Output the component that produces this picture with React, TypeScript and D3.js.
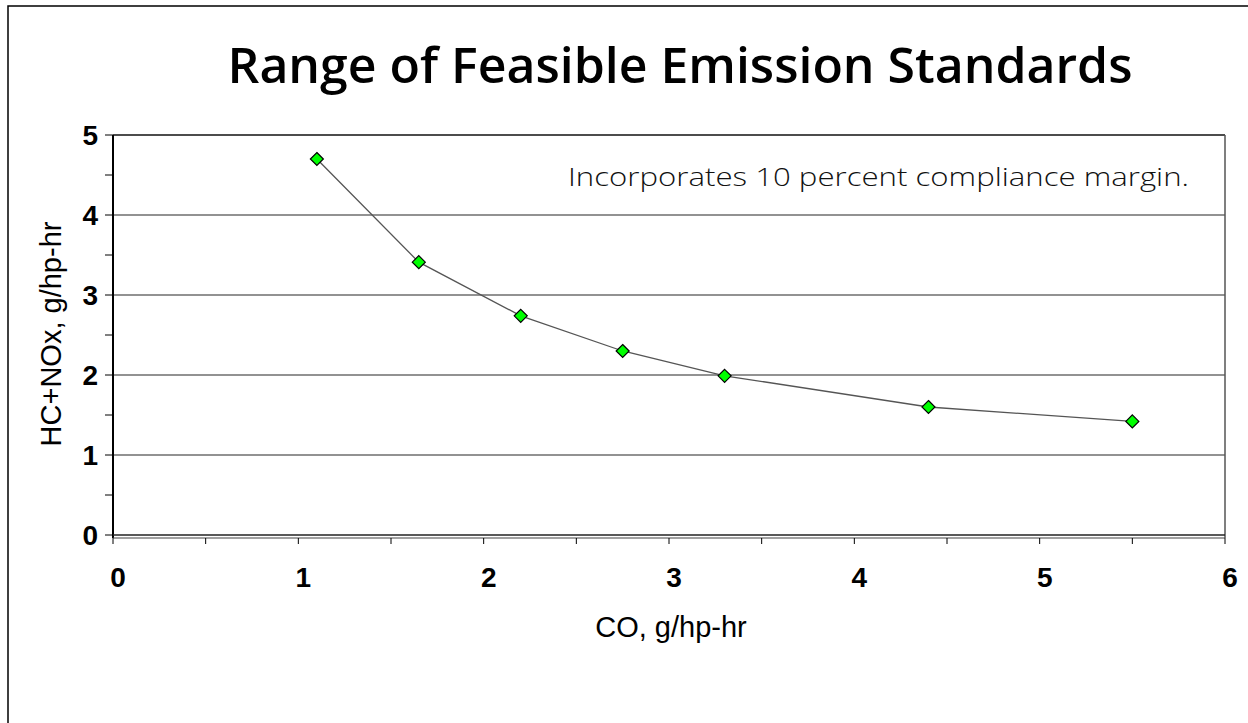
import React from "react";
import * as d3 from "d3";

const chartTitle = "Range of Feasible Emission Standards";
const annotation = "Incorporates 10 percent compliance margin.";
const xAxisTitle = "CO, g/hp-hr";
const yAxisTitle = "HC+NOx, g/hp-hr";

const coValues = [1.1, 1.65, 2.2, 2.75, 3.3, 4.4, 5.5];
const hcNoxValues = [4.7, 3.41, 2.74, 2.3, 1.99, 1.6, 1.42];

const xTickLabels = [0, 1, 2, 3, 4, 5, 6];
const yTickLabels = [0, 1, 2, 3, 4, 5];
const minorTicks = [0, 0.5, 1, 1.5, 2, 2.5, 3, 3.5, 4, 4.5, 5, 5.5, 6];

export default function App() {
  const W = 1248, H = 723;
  const left = 113, right = 1225, top = 135, bottom = 535;
  const x = d3.scaleLinear().domain([0, 6]).range([left, right]);
  const y = d3.scaleLinear().domain([0, 5]).range([bottom, top]);
  const pts = coValues.map((c, i) => [x(c), y(hcNoxValues[i])] as [number, number]);
  const line = d3.line()(pts) || "";
  const yMinor = minorTicks.filter((v) => v <= 5);
  const diamond = (cx: number, cy: number, r: number) =>
    `M${cx},${cy - r}L${cx + r},${cy}L${cx},${cy + r}L${cx - r},${cy}Z`;

  return (
    <svg
      width={W}
      height={H}
      style={{ position: "absolute", left: 0, top: 0, background: "#fff" }}
    >
      <rect x={0} y={0} width={W} height={H} fill="#fff" />
      {/* outer chart border */}
      <rect x={8} y={6} width={W + 20} height={H + 20} fill="none" stroke="#000" strokeWidth={1.5} />

      <text
        x={680}
        y={83}
        textAnchor="middle"
        fontFamily="'Open Sans', sans-serif"
        fontWeight={600}
        fontSize={49}
        textLength={905}
        lengthAdjust="spacingAndGlyphs"
        fill="#000"
      >
        {chartTitle}
      </text>

      {/* gridlines */}
      {yTickLabels.filter((v) => v > 0 && v < 5).map((v) => (
        <line key={"g" + v} x1={left} x2={right} y1={y(v)} y2={y(v)} stroke="#6e6e6e" strokeWidth={1.3} />
      ))}
      {/* plot frame top & right */}
      <line x1={left} x2={right} y1={top} y2={top} stroke="#111" strokeWidth={1.5} />
      <line x1={right} x2={right} y1={top} y2={bottom + 3} stroke="#555" strokeWidth={1.5} />

      {/* y axis */}
      <line x1={left} x2={left} y1={top} y2={bottom + 3} stroke="#000" strokeWidth={2} />
      {yMinor.map((v) => (
        <line key={"yt" + v} x1={left - 8} x2={left} y1={y(v)} y2={y(v)} stroke="#000" strokeWidth={1} />
      ))}
      {yTickLabels.map((v) => (
        <text
          key={"yl" + v}
          x={98}
          y={y(v) + 10}
          textAnchor="end"
          fontFamily="'Liberation Sans', Arial, sans-serif"
          fontWeight="bold"
          fontSize={28}
          fill="#000"
        >
          {v}
        </text>
      ))}

      {/* x axis: double line */}
      <line x1={left} x2={right} y1={bottom} y2={bottom} stroke="#222" strokeWidth={1.5} />
      <line x1={left} x2={right} y1={bottom + 3} y2={bottom + 3} stroke="#444" strokeWidth={1.2} />
      {minorTicks.map((v) => (
        <line key={"xt" + v} x1={x(v)} x2={x(v)} y1={bottom + 3} y2={bottom + 9} stroke="#000" strokeWidth={1} />
      ))}
      {xTickLabels.map((v) => (
        <text
          key={"xl" + v}
          x={x(v) + 5}
          y={587}
          textAnchor="middle"
          fontFamily="'Liberation Sans', Arial, sans-serif"
          fontWeight="bold"
          fontSize={28}
          fill="#000"
        >
          {v}
        </text>
      ))}

      {/* axis titles */}
      <text
        x={671}
        y={637}
        textAnchor="middle"
        fontFamily="'Liberation Sans', Arial, sans-serif"
        fontSize={29}
        fill="#000"
      >
        {xAxisTitle}
      </text>
      <text
        transform={`translate(61,334) rotate(-90)`}
        textAnchor="middle"
        fontFamily="'Liberation Sans', Arial, sans-serif"
        fontSize={29}
        fill="#000"
      >
        {yAxisTitle}
      </text>

      {/* annotation */}
      <text
        x={568}
        y={186}
        fontFamily="'Open Sans', sans-serif"
        fontWeight={300}
        fontSize={26}
        textLength={621}
        lengthAdjust="spacingAndGlyphs"
        fill="#111"
      >
        {annotation}
      </text>

      {/* series */}
      <path d={line} fill="none" stroke="#555" strokeWidth={1.3} />
      {pts.map(([cx, cy], i) => (
        <path key={"m" + i} d={diamond(cx, cy, 6.5)} fill="#00ff00" stroke="#000" strokeWidth={1.2} />
      ))}
    </svg>
  );
}
